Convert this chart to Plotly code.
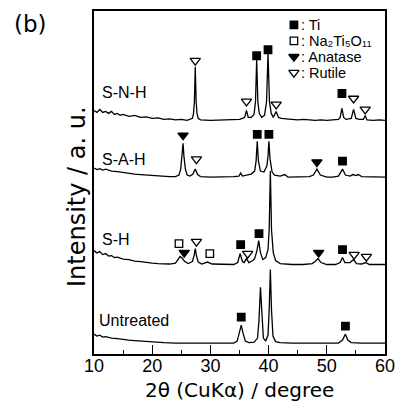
import plotly.graph_objects as go

# ---------------- data (2theta in degree, intensity in a.u., stacked) ----------------
snh_x = [10, 10.5, 11, 11.5, 12, 12.5, 13, 13.5, 14, 14.5, 15, 16, 17, 18, 19, 20, 21, 22, 23, 24,
         25, 26, 26.9, 27.1, 27.25, 27.4, 27.55, 27.7, 27.9, 28.3, 30, 32, 33, 34, 35, 35.5, 35.9, 36.2, 36.5, 37,
         37.5, 37.75, 37.95, 38.15, 38.4, 38.8, 39.3, 39.65, 39.9, 40.15, 40.45, 40.8, 41.3, 41.7, 42.2, 43, 44, 45, 46, 47,
         48, 49, 50, 51, 52, 52.3, 52.6, 52.9, 53.3, 54.2, 54.6, 55, 55.6, 56.3, 56.6, 56.9, 58, 59, 60]
snh_y = [245, 243, 246, 243, 244, 242, 244, 241, 242, 240, 241, 239, 240, 238, 238.5, 237, 237.5, 236, 236.5, 235.5,
         236, 235, 237, 242, 254, 289, 254, 242, 237, 235.5, 235, 235.5, 235, 235.5, 236, 237, 238, 245, 238, 238,
         241, 254, 296, 254, 242, 238, 240, 254, 302, 254, 242, 238, 244, 238, 237, 236.5, 236, 235.5, 236, 235.5,
         235, 235.5, 235, 235.5, 236, 238, 247, 238, 236, 237, 246, 237, 236, 236, 240, 235.5, 235, 235.5, 235]

sah_x = [10, 10.5, 11, 11.5, 12, 13, 14, 15, 16, 17, 18, 19, 20, 21, 22, 23, 24, 24.6, 24.9, 25.15,
         25.3, 25.45, 25.7, 26.0, 26.5, 27.0, 27.4, 27.8, 28.3, 30, 32, 34, 34.9, 35.2, 35.5, 36.2, 37, 37.6, 37.85, 38.05,
         38.25, 38.6, 39.2, 39.7, 39.9, 40.05, 40.25, 40.6, 41, 42, 42.8, 43.3, 45, 47, 47.7, 48.3, 48.9, 50, 51, 52,
         52.7, 53.2, 54, 54.5, 55, 55.4, 56, 58, 60]
sah_y = [187, 185.5, 186.5, 185, 186, 184, 183.5, 182.5, 182, 181, 180.5, 180, 179.5, 179, 179, 178.5, 178.5, 180, 186, 199,
         212, 199, 186, 180, 179, 181, 186, 180.5, 178.5, 178, 178, 178.5, 179, 182, 179, 180, 181, 184, 194, 214,
         194, 184, 183, 189, 199, 214, 196, 183, 180, 179, 180.5, 178, 178, 178.5, 180, 186, 180, 178, 178, 179,
         186, 180, 179, 180.5, 179.5, 180.5, 178.5, 178, 178]

sh_x = [10, 10.5, 11, 11.5, 12, 12.5, 13, 13.5, 14, 15, 16, 17, 18, 19, 20, 21, 22, 23, 24, 24.5,
        24.8, 25.2, 25.6, 26.2, 26.9, 27.2, 27.4, 27.6, 27.9, 28.5, 29.5, 30.3, 32, 34, 34.7, 35.1, 35.5, 35.8, 36.2, 36.6,
        37.3, 37.6, 38.0, 38.3, 38.6, 39.0, 39.5, 39.9, 40.1, 40.3, 40.5, 40.8, 41.2, 42, 44, 46, 47.5, 48.0, 48.5, 49.0,
        50, 51.5, 52.3, 52.7, 53.1, 54.0, 54.6, 55.1, 56, 56.7, 57.3, 60]
sh_y = [104, 101.5, 103, 100, 101, 98.5, 99, 97, 97.5, 95.5, 95, 93.5, 93, 92, 91.5, 91, 90.5, 90.5, 91.5, 95,
        98, 96, 93, 91, 93, 99, 106, 99, 92.5, 90.5, 92.5, 90.5, 90, 90, 92, 101, 93, 92, 96, 92,
        94, 96, 104, 114, 102, 95, 97, 105, 125, 184, 125, 102, 94, 91, 90, 90, 91, 93, 96, 92,
        90, 90, 92, 97, 92, 92, 95, 91, 90.5, 92, 90, 90]

unt_x = [10, 10.5, 11, 11.5, 12, 13, 14, 15, 16, 17, 18, 19, 20, 22, 24, 26, 28, 30, 32, 34,
         34.6, 35.0, 35.3, 35.6, 36.0, 36.6, 37.5, 38.1, 38.35, 38.6, 38.85, 39.1, 39.5, 39.9, 40.1, 40.3, 40.5, 40.75, 41.2, 42,
         44, 46, 48, 50, 52, 52.7, 53.2, 53.6, 54.2, 56, 58, 60]
unt_y = [20, 18, 19, 17, 17.5, 16, 15.5, 14.5, 14, 13.5, 13, 12.5, 12, 11.5, 11, 11, 11, 11, 10.5, 11,
         13, 21, 29, 21, 13, 11.5, 12, 16, 34, 67, 34, 16, 13, 19, 44, 85, 44, 18, 12.5, 11.5,
         11, 11, 11, 11, 11, 14, 20, 14, 11.5, 11, 11, 11]

# phase markers
ti_x = [37.95, 39.9, 52.6, 38.05, 40.05, 52.7, 35.2, 38.35, 52.7, 35.3, 53.2]
ti_y = [300, 306, 262, 221, 221, 194, 110, 121, 105, 37, 28]
na_x = [24.6, 29.9]
na_y = [111, 101]
ana_x = [25.3, 48.3, 25.5, 48.6]
ana_y = [220, 193, 102, 102]
rut_x = [27.4, 36.2, 41.3, 54.6, 56.6, 27.6, 27.6, 36.4, 54.7, 56.8]
rut_y = [295, 254, 251, 257, 246, 196, 113, 101, 100, 98]

# legend key
key_x = 44.35
key_text_x = 45.2
key_y = [331, 315, 299, 283]
key_labels = [": Ti", ": Na₂Ti₅O₁₁", ": Anatase", ": Rutile"]

# sample labels
sample_names = ["S-N-H", "S-A-H", "S-H", "Untreated"]
sample_lx = [11.0, 11.0, 11.0, 10.6]
sample_ly = [263, 196, 115, 34]

xtick_vals = [10, 20, 30, 40, 50, 60]
x_range = [10, 60]
y_range = [0, 345]

# ---------------- figure ----------------
fig = go.Figure()
line_style = dict(color="black", width=1.3)
for xs, ys in [(snh_x, snh_y), (sah_x, sah_y), (sh_x, sh_y), (unt_x, unt_y)]:
    fig.add_trace(go.Scatter(x=xs, y=ys, mode="lines", line=line_style,
                             hoverinfo="skip", showlegend=False))

def add_markers(xs, ys, symbol, size):
    fig.add_trace(go.Scatter(x=xs, y=ys, mode="markers", showlegend=False, hoverinfo="skip",
                             marker=dict(symbol=symbol, size=size, color="black",
                                         line=dict(color="black", width=1.3))))

add_markers(ti_x, ti_y, "square", 7.5)
add_markers(na_x, na_y, "square-open", 7.5)
add_markers(ana_x, ana_y, "triangle-down", 9)
add_markers(rut_x, rut_y, "triangle-down-open", 9)

# legend key markers
add_markers([key_x], [key_y[0]], "square", 7.5)
add_markers([key_x], [key_y[1]], "square-open", 7.5)
add_markers([key_x], [key_y[2]], "triangle-down", 9)
add_markers([key_x], [key_y[3]], "triangle-down-open", 9)

annotations = []
for ky, kt in zip(key_y, key_labels):
    annotations.append(dict(x=key_text_x, y=ky, xref="x", yref="y", text=kt, showarrow=False,
                            xanchor="left", yanchor="middle",
                            font=dict(size=14.5, family="Liberation Sans, Arial", color="black")))
for nm, lx, ly in zip(sample_names, sample_lx, sample_ly):
    annotations.append(dict(x=lx, y=ly, xref="x", yref="y", text=nm, showarrow=False,
                            xanchor="left", yanchor="middle",
                            font=dict(size=16, family="Liberation Sans, Arial", color="black")))
annotations.append(dict(x=0.5, y=-0.106, xref="paper", yref="paper", text="2θ (CuKα) / degree",
                        showarrow=False, xanchor="center", yanchor="middle",
                        font=dict(size=20, family="DejaVu Sans", color="black")))
annotations.append(dict(x=-0.058, y=0.458, xref="paper", yref="paper", text="Intensity / a. u.",
                        showarrow=False, xanchor="center", yanchor="middle", textangle=-90,
                        font=dict(size=24, family="DejaVu Sans", color="black")))
annotations.append(dict(x=-0.218, y=0.962, xref="paper", yref="paper", text="(b)",
                        showarrow=False, xanchor="center", yanchor="middle",
                        font=dict(size=23, family="DejaVu Sans", color="black")))

fig.update_layout(width=404, height=406, margin=dict(l=94, r=16, t=9, b=52),
                  plot_bgcolor="white", paper_bgcolor="white", showlegend=False,
                  font=dict(family="Liberation Sans, Arial", color="black"),
                  annotations=annotations)
fig.update_xaxes(range=x_range, tickvals=xtick_vals, ticks="inside", ticklen=9, tickwidth=1.3,
                 tickcolor="black", showline=True, linewidth=1.5, linecolor="black", mirror=True,
                 showgrid=False, zeroline=False, tickfont=dict(size=18, color="black"),
                 ticklabelstandoff=-5,
                 minor=dict(dtick=5, tick0=0, ticks="inside", ticklen=4, tickwidth=1.2,
                            tickcolor="black", showgrid=False))
fig.update_yaxes(range=y_range, showticklabels=False, ticks="", showline=True, linewidth=1.5,
                 linecolor="black", mirror=True, showgrid=False, zeroline=False)

fig.write_html("out.html")
